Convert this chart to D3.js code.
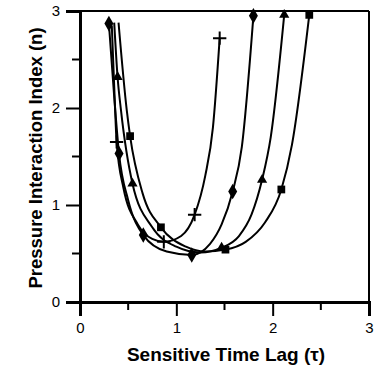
<!DOCTYPE html>
<html>
<head>
<meta charset="utf-8">
<script src="https://cdn.jsdelivr.net/npm/d3@7"></script>
<style>
  body { margin: 0; background: #fff; }
  svg { display: block; font-family: 'Liberation Sans', Arial, sans-serif; }
</style>
</head>
<body>
<svg id="chart" width="374" height="370"></svg>
<script>
// fitted curves, [tau, n]
const plusCurve = [[0.33, 2.85], [0.36, 2.1], [0.38, 1.65], [0.45, 1.18], [0.6, 0.8], [0.75, 0.65], [0.87, 0.62], [1.05, 0.68], [1.19, 0.9], [1.3, 1.3], [1.38, 1.8], [1.45, 2.72]]
const diamondCurve = [[0.3, 2.87], [0.36, 2.05], [0.405, 1.53], [0.5, 1.05], [0.657, 0.69], [0.9, 0.52], [1.16, 0.485], [1.35, 0.6], [1.47, 0.8], [1.585, 1.14], [1.68, 1.6], [1.8, 2.95]]
const triangleCurve = [[0.355, 2.88], [0.39, 2.32], [0.425, 1.98], [0.545, 1.22], [0.75, 0.77], [1.0, 0.57], [1.25, 0.51], [1.47, 0.56], [1.65, 0.68], [1.78, 0.9], [1.89, 1.26], [1.98, 1.7], [2.12, 2.96]]
const squareCurve = [[0.4, 2.88], [0.485, 1.98], [0.52, 1.71], [0.65, 1.12], [0.84, 0.77], [1.1, 0.57], [1.3, 0.52], [1.51, 0.54], [1.72, 0.62], [1.92, 0.82], [2.09, 1.16], [2.2, 1.62], [2.38, 2.96]]

// measured points (markers)
const plusPoints = [[0.38, 1.65], [0.87, 0.62], [1.19, 0.9], [1.45, 2.72]]
const diamondPoints = [[0.3, 2.87], [0.405, 1.53], [0.657, 0.69], [1.16, 0.485], [1.585, 1.14], [1.8, 2.95]]
const trianglePoints = [[0.39, 2.32], [0.545, 1.22], [1.47, 0.56], [1.89, 1.26], [2.12, 2.96]]
const squarePoints = [[0.52, 1.71], [0.84, 0.77], [1.51, 0.54], [2.09, 1.16], [2.38, 2.96]]

const xTicks = [0, 1, 2, 3]
const yTicks = [0, 1, 2, 3]
const minorTicks = [0.5, 1.5, 2.5]

const svg = d3.select('#chart')

const x = d3.scaleLinear().domain([0, 3]).range([80, 369])
const y = d3.scaleLinear().domain([0, 3]).range([302, 11])

// frame: top and right thinner
svg.append('line')
  .attr('x1', x(0)).attr('x2', x(3))
  .attr('y1', y(3)).attr('y2', y(3))
  .attr('stroke', '#000').attr('stroke-width', 2)
svg.append('line')
  .attr('x1', x(3)).attr('x2', x(3))
  .attr('y1', y(3)).attr('y2', y(0))
  .attr('stroke', '#000').attr('stroke-width', 2)

const xAxis = svg.append('g')
  .attr('transform', `translate(0,${y(0)})`)
  .call(d3.axisBottom(x).tickValues(xTicks).tickFormat(d3.format('d')).tickSize(14).tickPadding(6))
xAxis.append('g')
  .selectAll('line')
  .data(minorTicks)
  .enter()
  .append('line')
  .attr('x1', d => x(d)).attr('x2', d => x(d))
  .attr('y1', 0).attr('y2', 8)
  .attr('stroke', '#000').attr('stroke-width', 2)

const yAxis = svg.append('g')
  .attr('transform', `translate(${x(0)},0)`)
  .call(d3.axisLeft(y).tickValues(yTicks).tickFormat(d3.format('d')).tickSize(14).tickPadding(6))
yAxis.append('g')
  .selectAll('line')
  .data(minorTicks)
  .enter()
  .append('line')
  .attr('y1', d => y(d)).attr('y2', d => y(d))
  .attr('x1', 0).attr('x2', -8)
  .attr('stroke', '#000').attr('stroke-width', 2)

svg.selectAll('.domain')
  .attr('stroke', '#000')
  .attr('stroke-width', 3)
svg.selectAll('.tick line')
  .attr('stroke', '#000')
  .attr('stroke-width', 2)
svg.selectAll('.tick text')
  .attr('font-size', '15px')
  .attr('fill', '#000')
  .attr('font-family', 'Liberation Sans, Arial, sans-serif')

// curves
const line = d3.line()
  .x(d => x(d[0]))
  .y(d => y(d[1]))
  .curve(d3.curveMonotoneX)

const curves = [plusCurve, diamondCurve, triangleCurve, squareCurve]
svg.append('g')
  .selectAll('path')
  .data(curves)
  .enter()
  .append('path')
  .attr('d', line)
  .attr('fill', 'none')
  .attr('stroke', '#000')
  .attr('stroke-width', 2)

// markers
const markerSets = [
  { pts: diamondPoints, type: d3.symbolDiamond, size: 70, fill: true },
  { pts: trianglePoints, type: d3.symbolTriangle, size: 45, fill: true },
  { pts: squarePoints, type: d3.symbolSquare, size: 60, fill: true },
  { pts: plusPoints, type: d3.symbolPlus, size: 60, fill: false },
]

markerSets.forEach(m => {
  svg.append('g')
    .selectAll('path')
    .data(m.pts)
    .enter()
    .append('path')
    .attr('transform', d => `translate(${x(d[0])},${y(d[1])})`)
    .attr('d', d3.symbol().type(m.type).size(m.size))
    .attr('fill', m.fill ? '#000' : 'none')
    .attr('stroke', '#000')
    .attr('stroke-width', m.fill ? 0 : 2)
})

// axis titles
svg.append('text')
  .text('Sensitive Time Lag (τ)')
  .attr('x', 226)
  .attr('y', 361)
  .attr('text-anchor', 'middle')
  .attr('font-weight', 'bold')
  .attr('font-size', '19px')

svg.append('text')
  .text('Pressure Interaction Index (n)')
  .attr('transform', 'translate(42,158) rotate(-90)')
  .attr('text-anchor', 'middle')
  .attr('font-weight', 'bold')
  .attr('font-size', '18.5px')
</script>
</body>
</html>
